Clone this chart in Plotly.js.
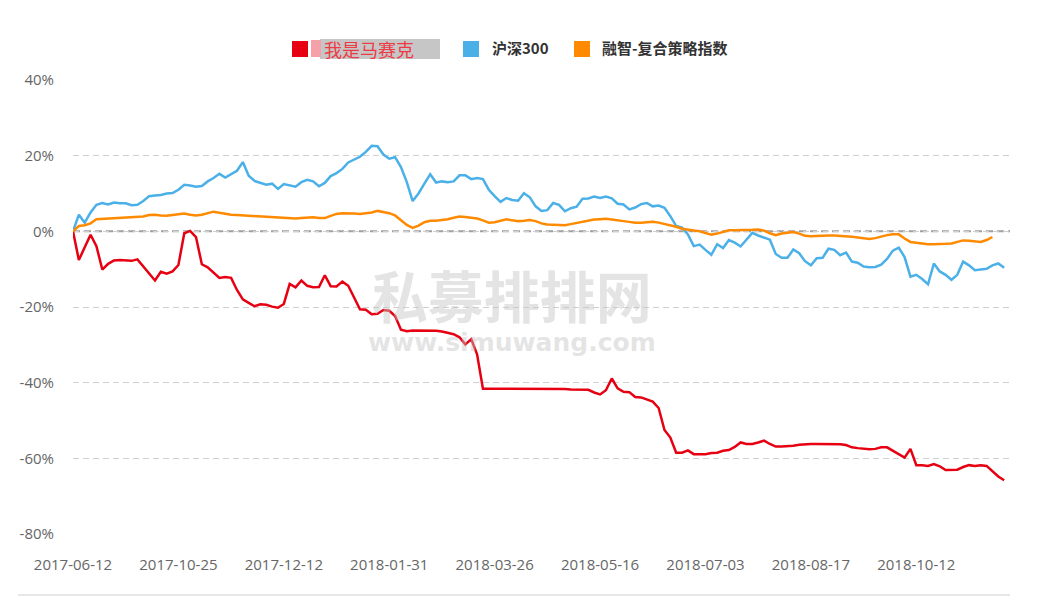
<!DOCTYPE html>
<html>
<head>
<meta charset="utf-8">
<script src="https://cdn.plot.ly/plotly-3.0.1.min.js"></script>
<style>
html,body{margin:0;padding:0;background:#fff;}
#chart{width:1039px;height:609px;}
</style>
</head>
<body>
<div id="chart"></div>
<script>
// ---------- 数据 ----------
const tickDates = ["2017-06-12","2017-10-25","2017-12-12","2018-01-31","2018-03-26","2018-05-16","2018-07-03","2018-08-17","2018-10-12"];
const tickIdx = [0,18,36,54,72,90,108,126,144];

const seriesNames = ["我是马赛克","沪深300","融智-复合策略指数"];
const seriesColors = ["#e60012","#4bb0e8","#ff8a00"];

// 我是马赛克 (%)
const fundVals = [
  0,-7.6,-4.2,-0.9,-3.9,-10.1,-8.6,-7.7,-7.6,-7.8,
  -7.8,-7.4,-9.2,-11.0,-13.0,-10.7,-11.2,-10.6,-8.9,-0.5,
  0.1,-1.5,-8.7,-9.5,-11.0,-12.3,-12.1,-12.3,-15.5,-18.0,
  -18.9,-19.8,-19.3,-19.4,-19.9,-20.2,-19.2,-13.9,-14.8,-13.0,
  -14.4,-14.8,-14.7,-11.6,-14.5,-14.6,-13.3,-14.4,-17.5,-20.6,
  -20.7,-21.9,-21.8,-20.8,-21.0,-22.4,-26.0,-26.4,-26.2,-26.2,
  -26.2,-26.2,-26.3,-26.5,-26.8,-27.2,-28.0,-29.9,-28.5,-32.5,
  -41.6,-41.6,-41.6,-41.6,-41.6,-41.7,-41.7,-41.7,-41.7,-41.7,
  -41.7,-41.7,-41.7,-41.7,-41.7,-41.8,-41.8,-41.8,-41.9,-42.6,
  -43.1,-42.0,-38.9,-41.5,-42.4,-42.5,-43.8,-43.9,-44.5,-45.0,
  -46.7,-52.5,-54.5,-58.5,-58.5,-57.9,-58.9,-58.9,-58.9,-58.6,
  -58.5,-58.0,-57.8,-57.0,-55.8,-56.2,-56.2,-55.8,-55.3,-56.2,
  -56.9,-56.9,-56.9,-56.7,-56.4,-56.2,-56.2,-56.2,-56.2,-56.2,
  -56.3,-56.3,-56.5,-57.1,-57.3,-57.5,-57.6,-57.5,-57.1,-57.1,
  -58.0,-59.0,-59.8,-57.5,-61.8,-61.8,-62.0,-61.5,-62.1,-63.1,
  -63.1,-63.0,-62.3,-61.8,-62.0,-61.8,-62.0,-63.5,-64.8,-65.8
];

// 沪深300 (%)
const hs300Vals = [
  0,4.4,2.3,5.0,7.0,7.5,7.1,7.6,7.4,7.4,
  6.9,7.0,8.0,9.3,9.5,9.6,10.0,10.1,11.0,12.3,
  12.1,11.8,12.0,13.2,14.1,15.2,14.2,15.0,16.0,18.3,
  14.7,13.3,12.9,12.3,12.6,11.2,12.5,12.2,11.8,13.0,
  13.6,13.2,11.9,12.8,14.6,15.4,16.5,18.2,18.9,19.7,
  21.0,22.6,22.5,20.3,19.2,19.6,17.0,13.0,8.0,10.0,
  12.6,15.1,12.9,13.2,13.0,13.2,14.8,14.8,13.8,14.1,
  13.8,11.0,9.3,7.8,8.8,8.3,8.1,10.1,9.0,6.6,
  5.4,5.6,7.5,7.0,5.3,6.1,6.5,8.6,8.7,9.2,
  8.8,9.2,8.7,7.3,7.1,5.8,6.3,7.2,7.5,6.6,
  6.8,6.2,4.0,1.4,1.0,-0.8,-3.9,-3.5,-4.9,-6.2,
  -3.4,-4.4,-2.3,-3.0,-4.0,-2.3,-0.4,-1.1,-1.7,-2.2,
  -6.0,-7.0,-7.0,-4.8,-5.8,-7.9,-9.0,-7.1,-7.0,-4.6,
  -4.9,-6.3,-5.6,-8.0,-8.3,-9.3,-9.5,-9.4,-8.8,-7.3,
  -5.1,-4.3,-6.8,-12.0,-11.5,-12.6,-14.0,-8.5,-10.6,-11.5,
  -12.8,-11.5,-8.0,-9.0,-10.3,-10.2,-9.9,-9.0,-8.5,-9.6
];

// 融智-复合策略指数 (%)
const indexVals = [
  0,1.4,1.6,2.1,3.2,3.3,3.4,3.5,3.5,3.6,
  3.7,3.8,3.9,4.3,4.4,4.2,4.1,4.3,4.5,4.7,
  4.4,4.2,4.4,4.9,5.2,4.9,4.6,4.4,4.3,4.2,
  4.1,3.9,3.8,3.7,3.6,3.5,3.4,3.4,3.4,3.5,
  3.6,3.7,3.5,3.5,4.1,4.6,4.8,4.8,4.7,4.6,
  4.7,5.0,5.4,5.2,4.8,4.2,3.0,1.7,0.9,1.5,
  2.4,2.8,2.8,3.0,3.2,3.6,3.9,3.8,3.6,3.4,
  2.9,2.3,2.4,2.9,3.2,2.9,2.7,2.8,3.0,2.7,
  2.1,1.8,1.7,1.7,1.6,1.9,2.2,2.6,2.9,3.1,
  3.2,3.3,3.1,2.8,2.7,2.5,2.3,2.3,2.4,2.5,
  2.3,2.0,1.7,1.2,0.7,0.4,0.2,0.0,-0.4,-0.9,
  -0.6,-0.1,0.3,0.3,0.3,0.3,0.4,0.5,0.2,-0.5,
  -1.0,-0.6,-0.3,-0.2,-0.6,-1.2,-1.3,-1.2,-1.1,-1.1,
  -1.1,-1.2,-1.2,-1.4,-1.6,-1.8,-2.0,-1.8,-1.3,-1.0,
  -0.8,-0.8,-1.9,-2.8,-3.0,-3.2,-3.4,-3.4,-3.4,-3.3,
  -3.2,-2.9,-2.4,-2.5,-2.7,-2.8,-2.3,-1.5,null,null
];

const yTicks = [40,20,0,-20,-40,-60,-80];

// ---------- 布局 ----------
const W = 1039, H = 609;
const L = 73, R = 29, T = 80, B = 75;
const pw = W - L - R, ph = H - T - B;
function px(x){ return (x - L) / pw; }
function py(y){ return (H - B - y) / ph; }

const idx = fundVals.map((v,i)=>i);

const traces = [fundVals, hs300Vals, indexVals].map((vals,k)=>({
    x: idx,
    y: vals,
    type: "scatter",
    mode: "lines",
    name: seriesNames[k],
    line: {color: seriesColors[k], width: 2.5},
    hoverinfo: "skip",
    showlegend: false
}));

// 自定义图例
const legendItems = [
    {sq: 292},
    {sq: 463},
    {sq: 574}
];

let shapes = [];
let annotations = [];

// 零线
shapes.push({
    type: "line", xref: "paper", yref: "y",
    x0: 0, x1: 1, y0: 0, y1: 0,
    line: {color: "#a0a0a0", width: 2, dash: "7px,4px"},
    layer: "below"
});

// 底部分割线
shapes.push({
    type: "line", xref: "paper", yref: "paper",
    x0: px(18), x1: 1, y0: py(595), y1: py(595),
    line: {color: "#d0d0d0", width: 1}
});

// 马赛克底色
shapes.push({
    type: "rect", xref: "paper", yref: "paper",
    x0: px(320), x1: px(440), y0: py(59), y1: py(39),
    fillcolor: "#c6c6c6", line: {width: 0}
});
shapes.push({
    type: "rect", xref: "paper", yref: "paper",
    x0: px(311), x1: px(321), y0: py(57), y1: py(40),
    fillcolor: "#f4a1a9", line: {width: 0}
});

legendItems.forEach((it,k)=>{
    shapes.push({
        type: "rect", xref: "paper", yref: "paper",
        x0: px(it.sq), x1: px(it.sq + 16), y0: py(57), y1: py(41),
        fillcolor: seriesColors[k], line: {width: 0}
    });
});

annotations.push({
    xref: "paper", yref: "paper", x: px(322), y: py(49),
    xanchor: "left", yanchor: "middle", showarrow: false,
    text: seriesNames[0],
    font: {family: "Noto Sans CJK SC", size: 18, color: "#ee3a45"}
});
annotations.push({
    xref: "paper", yref: "paper", x: px(490), y: py(48),
    xanchor: "left", yanchor: "middle", showarrow: false,
    text: "<b>" + seriesNames[1] + "</b>",
    font: {family: "Noto Sans CJK SC", size: 15, color: "#333333"}
});
annotations.push({
    xref: "paper", yref: "paper", x: px(600), y: py(48),
    xanchor: "left", yanchor: "middle", showarrow: false,
    text: "<b>" + seriesNames[2] + "</b>",
    font: {family: "Noto Sans CJK SC", size: 15, color: "#333333"}
});

// 水印（两行合成一个文本）
annotations.push({
    xref: "paper", yref: "paper", x: px(512), y: py(305),
    xanchor: "center", yanchor: "middle", showarrow: false,
    text: "<span style='font-size:56px;font-family:Noto Sans CJK SC'><b>私募排排网</b></span><br><b>www.simuwang.com</b>",
    font: {family: "DejaVu Sans", size: 25, color: "rgba(195,195,195,0.45)"}
});

const layout = {
    width: W,
    height: H,
    margin: {l: L, r: R, t: T, b: B, pad: 0},
    paper_bgcolor: "#ffffff",
    plot_bgcolor: "#ffffff",
    font: {family: "Open Sans, Noto Sans CJK SC", size: 15, color: "#666666"},
    showlegend: false,
    hovermode: false,
    xaxis: {
        range: [0, 160],
        tickvals: tickIdx,
        ticktext: tickDates,
        showgrid: false,
        zeroline: false,
        showline: false,
        ticks: "",
        ticklabelstandoff: 20,
        tickfont: {size: 15, color: "#666666"}
    },
    yaxis: {
        range: [-80, 40],
        tickvals: yTicks,
        ticktext: yTicks.map(v=>v + "%"),
        showgrid: true,
        gridcolor: "#d0d0d0",
        gridwidth: 1,
        griddash: "6px,4px",
        zeroline: false,
        showline: false,
        ticks: "",
        ticklabelstandoff: 18,
        tickfont: {size: 15, color: "#666666"}
    },
    shapes: shapes,
    annotations: annotations
};

Plotly.newPlot("chart", traces, layout, {displayModeBar: false, staticPlot: true});
</script>
</body>
</html>
